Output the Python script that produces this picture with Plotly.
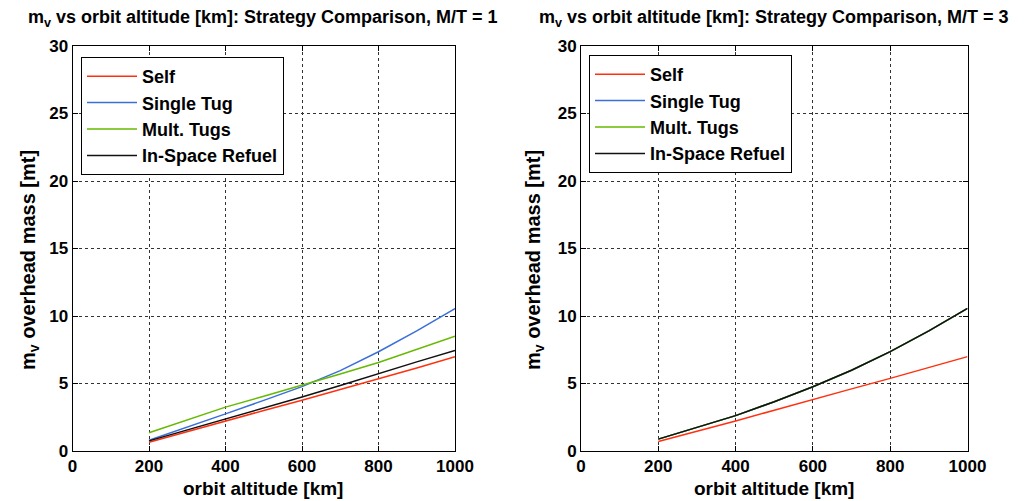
import plotly.graph_objects as go

altitude = [200, 300, 400, 500, 600, 700, 800, 900, 1000]

# M/T = 1
self_mt1 = [0.65, 1.45, 2.22, 3.0, 3.76, 4.55, 5.36, 6.15, 6.98]
single_tug_mt1 = [0.8, 1.75, 2.75, 3.75, 4.77, 5.95, 7.35, 8.9, 10.55]
mult_tugs_mt1 = [1.35, 2.3, 3.25, 4.05, 4.85, 5.7, 6.55, 7.5, 8.5]
refuel_mt1 = [0.75, 1.55, 2.35, 3.15, 4.0, 4.85, 5.75, 6.6, 7.45]

# M/T = 3
self_mt3 = [0.7, 1.45, 2.22, 3.02, 3.83, 4.6, 5.38, 6.18, 6.99]
single_tug_mt3 = [0.88, 1.75, 2.62, 3.65, 4.76, 5.98, 7.36, 8.9, 10.57]
mult_tugs_mt3 = [0.88, 1.75, 2.62, 3.65, 4.76, 5.98, 7.36, 8.9, 10.57]
refuel_mt3 = [0.88, 1.75, 2.62, 3.65, 4.76, 5.98, 7.36, 8.9, 10.57]

series_names = ["Self", "Single Tug", "Mult. Tugs", "In-Space Refuel"]
colors = ["#ff3010", "#3a6fd8", "#66b800", "#111111"]
x_ticks = [0, 200, 400, 600, 800, 1000]
y_ticks = [0, 5, 10, 15, 20, 25, 30]
titles = ["m<sub>v</sub> vs orbit altitude [km]: Strategy Comparison, M/T = 1",
          "m<sub>v</sub> vs orbit altitude [km]: Strategy Comparison, M/T = 3"]
x_title = "orbit altitude [km]"
y_title = "m<sub>v</sub> overhead mass [mt]"

# page body has an 8px margin; the figure is sized to reach the window's edges
OFF = 8
W, H = 1026 - OFF, 501 - OFF
AX_TOP, AX_BOT = 46 - OFF, 451 - OFF
MT, MB = AX_TOP, H - AX_BOT
PH = AX_BOT - AX_TOP


def px(x):
    return (x - OFF) / W


def py(y):
    return (AX_BOT - (y - OFF)) / PH


fig = go.Figure()

panels = [
    ([self_mt1, single_tug_mt1, mult_tugs_mt1, refuel_mt1], "x", "y", "legend"),
    ([self_mt3, single_tug_mt3, mult_tugs_mt3, refuel_mt3], "x2", "y2", "legend2"),
]
for data, xa, ya, lg in panels:
    for i, (name, vals) in enumerate(zip(series_names, data)):
        fig.add_trace(go.Scatter(
            x=altitude, y=vals, mode="lines", name=name,
            line=dict(color=colors[i], width=1.5),
            xaxis=xa, yaxis=ya, legend=lg, legendrank=i + 1,
        ))

font = "Liberation Sans, Arial, sans-serif"
tickfont = dict(family=font, size=17, color="black", weight="bold")

axis_common = dict(
    showline=True, linecolor="black", linewidth=1, mirror="ticks",
    ticks="inside", ticklen=5, tickcolor="black",
    showgrid=True, gridcolor="#333333", griddash="dot", gridwidth=1,
    zeroline=False, tickfont=tickfont, automargin=False,
)
legend_font = dict(family=font, size=18, color="black", weight="bold")

fig.update_layout(
    width=W, height=H,
    margin=dict(l=0, r=0, t=MT, b=MB),
    paper_bgcolor="white", plot_bgcolor="white",
    template="none",
    xaxis=dict(domain=[px(72.5), px(455)], range=[0, 1000], tickvals=x_ticks, anchor="y", **axis_common),
    yaxis=dict(domain=[0, 1], range=[0, 30], tickvals=y_ticks, anchor="x", **axis_common),
    xaxis2=dict(domain=[px(581), px(967.5)], range=[0, 1000], tickvals=x_ticks, anchor="y2", **axis_common),
    yaxis2=dict(domain=[0, 1], range=[0, 30], tickvals=y_ticks, anchor="x2", **axis_common),
    legend=dict(x=px(81), y=py(57), xanchor="left", yanchor="top", bgcolor="white",
                bordercolor="black", borderwidth=1, itemwidth=50,
                font=legend_font, tracegroupgap=0),
    legend2=dict(x=px(589), y=py(55), xanchor="left", yanchor="top", bgcolor="white",
                 bordercolor="black", borderwidth=1, itemwidth=50,
                 font=legend_font, tracegroupgap=0),
    showlegend=True,
)

anns = []
for cx, t in zip([263, 774], titles):
    anns.append(dict(x=px(cx), y=py(18), xref="paper", yref="paper", text=t, showarrow=False,
                     xanchor="center", yanchor="middle",
                     font=dict(family=font, size=18, color="black", weight="bold")))
for cx in [263, 774]:
    anns.append(dict(x=px(cx), y=py(488), xref="paper", yref="paper", text=x_title, showarrow=False,
                     xanchor="center", yanchor="middle",
                     font=dict(family=font, size=19, color="black", weight="bold")))
for cx in [30, 535]:
    anns.append(dict(x=px(cx), y=py(260), xref="paper", yref="paper", text=y_title, showarrow=False,
                     xanchor="center", yanchor="middle", textangle=-90,
                     font=dict(family=font, size=20, color="black", weight="bold")))
fig.update_layout(annotations=anns)

fig.write_html("out.html")
